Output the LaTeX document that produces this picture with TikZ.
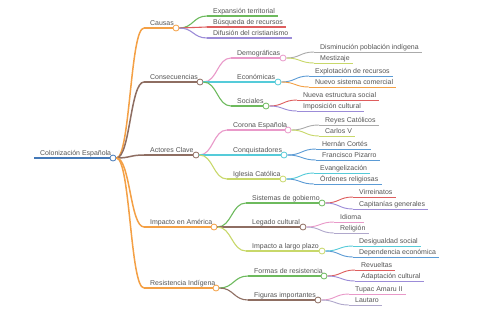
\documentclass[tikz,border=0pt]{standalone}
\usepackage{fontspec}
\setmainfont{Liberation Sans}
\usetikzlibrary{calc}
\definecolor{corange}{HTML}{F4A045}
\definecolor{cbrown}{HTML}{8E6E62}
\definecolor{cgreen}{HTML}{6DBA5D}
\definecolor{cred}{HTML}{DE5E5E}
\definecolor{cpurple}{HTML}{9C8CD8}
\definecolor{cpink}{HTML}{E999C9}
\definecolor{ccyan}{HTML}{55CBD9}
\definecolor{cygreen}{HTML}{C8D86A}
\definecolor{cblue}{HTML}{5B9BD5}
\definecolor{cgray}{HTML}{ABABAB}
\definecolor{clav}{HTML}{B0A8CC}
\definecolor{croot}{HTML}{4479B8}
\definecolor{ctext}{HTML}{555555}
\newcommand{\mmlink}[3]{%
  \path ($(#1.east)!.5!(#2.south west)$) coordinate (mmm);
  \draw[#3] (#1.east) .. controls (mmm |- #1.east) and (mmm |- #2.south west) .. (#2.south west);
}
\newcommand{\mmtopic}[8]{%
  \node[txt] (#1) at (#3,#4) {#8};
  \mmlink{#2c}{#1}{#6, line width=#7}
  \node[dot, draw=#6] (#1c) at (#5,#4) {};
  \draw[#6, line width=#7] (#1.south west) -- (#1c.west);
}
\newcommand{\mmleaf}[7]{%
  \node[txt] (#1) at (#3,#4) {#7};
  \mmlink{#2c}{#1}{#5, line width=#6}
  \draw[#5, line width=#6] (#1.south west) -- ([xshift=-3bp]#1.south east);
}
\begin{document}
\begin{tikzpicture}[x=1bp, y=-1bp,
  txt/.style={anchor=south west, inner xsep=6bp, inner ysep=1.2bp, text height=5.2bp, text depth=1.5bp,
    font=\fontsize{7}{8}\selectfont, text=ctext},
  dot/.style={circle, fill=white, line width=0.8bp, minimum size=6bp, inner sep=0pt}]
\useasboundingbox[fill=white] (0,0) rectangle (480,320);
% root
\node[txt] (root) at (34,158) {Colonización Española};
\node[dot, draw=croot] (rootc) at (113,158) {};
\draw[croot, line width=2bp] (root.south west) -- (rootc.west);
% level 1
\mmtopic{causas}{root}{144}{28}{176}{corange}{1.5bp}{Causas}
\mmtopic{cons}{root}{144}{82}{200}{cbrown}{1.5bp}{Consecuencias}
\mmtopic{act}{root}{144}{155}{196}{cbrown}{1.5bp}{Actores Clave}
\mmtopic{imp}{root}{144}{227}{214}{corange}{1.5bp}{Impacto en América}
\mmtopic{res}{root}{144}{288}{216}{corange}{1.5bp}{Resistencia Indígena}
% Causas
\mmleaf{ca}{causas}{207}{16}{cgreen}{1.1bp}{Expansión territorial}
\mmleaf{cb}{causas}{207}{27}{cred}{1.1bp}{Búsqueda de recursos}
\mmleaf{cc}{causas}{207}{38}{cpurple}{1.1bp}{Difusión del cristianismo}
% Consecuencias
\mmtopic{dem}{cons}{231}{58}{283}{cpink}{1.1bp}{Demográficas}
\mmtopic{eco}{cons}{231}{82}{278}{ccyan}{1.1bp}{Económicas}
\mmtopic{soc}{cons}{231}{106}{266}{cgreen}{1.1bp}{Sociales}
\mmleaf{dema}{dem}{314}{52}{cgray}{0.9bp}{Disminución población indígena}
\mmleaf{demb}{dem}{314}{63}{cygreen}{0.9bp}{Mestizaje}
\mmleaf{ecoa}{eco}{309}{76}{cblue}{0.9bp}{Explotación de recursos}
\mmleaf{ecob}{eco}{309}{87}{corange}{0.9bp}{Nuevo sistema comercial}
\mmleaf{soca}{soc}{297}{100}{cred}{0.9bp}{Nueva estructura social}
\mmleaf{socb}{soc}{297}{111}{cpurple}{0.9bp}{Imposición cultural}
% Actores Clave
\mmtopic{cor}{act}{227}{130}{288}{cpink}{1.1bp}{Corona Española}
\mmtopic{conq}{act}{227}{155}{284}{ccyan}{1.1bp}{Conquistadores}
\mmtopic{igl}{act}{227}{179}{283}{cygreen}{1.1bp}{Iglesia Católica}
\mmleaf{cora}{cor}{319}{125}{cgray}{0.9bp}{Reyes Católicos}
\mmleaf{corb}{cor}{319}{136}{cygreen}{0.9bp}{Carlos V}
\mmleaf{conqa}{conq}{316}{149}{cblue}{0.9bp}{Hernán Cortés}
\mmleaf{conqb}{conq}{316}{160}{cblue}{0.9bp}{Francisco Pizarro}
\mmleaf{igla}{igl}{314}{173}{ccyan}{0.9bp}{Evangelización}
\mmleaf{iglb}{igl}{314}{184}{cblue}{0.9bp}{Órdenes religiosas}
% Impacto en America
\mmtopic{sis}{imp}{246}{203}{322}{cgreen}{1.1bp}{Sistemas de gobierno}
\mmtopic{leg}{imp}{246}{227}{303}{cbrown}{1.1bp}{Legado cultural}
\mmtopic{lp}{imp}{246}{251}{322}{cygreen}{1.1bp}{Impacto a largo plazo}
\mmleaf{sisa}{sis}{353}{197}{cred}{0.9bp}{Virreinatos}
\mmleaf{sisb}{sis}{353}{209}{cpurple}{0.9bp}{Capitanías generales}
\mmleaf{lega}{leg}{334}{222}{cpink}{0.9bp}{Idioma}
\mmleaf{legb}{leg}{334}{233}{clav}{0.9bp}{Religión}
\mmleaf{lpa}{lp}{353}{246}{ccyan}{0.9bp}{Desigualdad social}
\mmleaf{lpb}{lp}{353}{257}{cblue}{0.9bp}{Dependencia económica}
% Resistencia
\mmtopic{for}{res}{248}{276}{324}{cgreen}{1.1bp}{Formas de resistencia}
\mmtopic{fig}{res}{248}{300}{318}{cbrown}{1.1bp}{Figuras importantes}
\mmleaf{fora}{for}{355}{270}{cred}{0.9bp}{Revueltas}
\mmleaf{forb}{for}{355}{281}{cpurple}{0.9bp}{Adaptación cultural}
\mmleaf{figa}{fig}{349}{294}{cpink}{0.9bp}{Tupac Amaru II}
\mmleaf{figb}{fig}{349}{305}{clav}{0.9bp}{Lautaro}
\end{tikzpicture}
\end{document}
